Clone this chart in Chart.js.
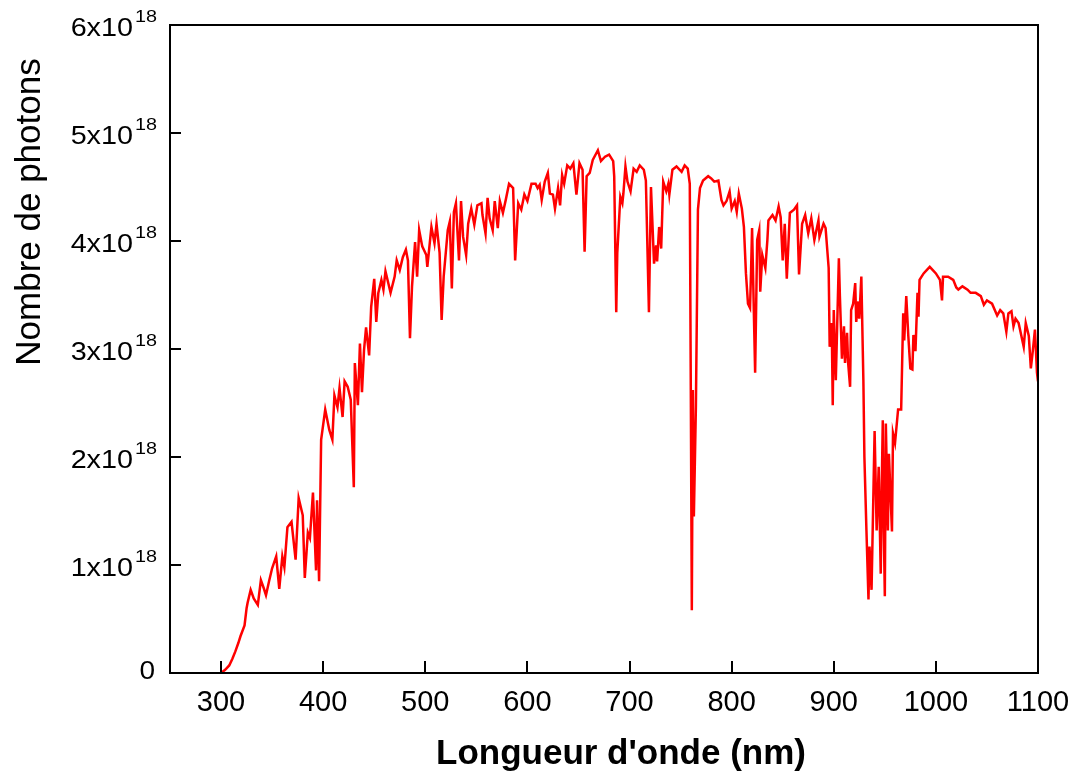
<!DOCTYPE html>
<html>
<head>
<meta charset="utf-8">
<script src="https://cdn.jsdelivr.net/npm/chart.js@4"></script>
<style>
  body { margin: 0; background: #fff; }
</style>
</head>
<body>
<canvas id="c" width="1075" height="772"></canvas>
<script>
// =====================
// Data (photons in units of 1e18)
// =====================
const wavelength = [
  300, 304, 308, 311, 314, 317, 319, 323, 325, 326, 329, 332, 336, 339, 342, 344, 347, 350, 354, 357,
  360, 362, 365, 369, 373, 376, 380, 382, 385, 387, 390, 393, 394, 396, 398, 402, 406, 409, 411, 414,
  416, 419, 421, 424, 427, 430, 431, 434, 436, 438, 440, 442, 445, 447, 450, 452, 454, 457, 459, 461,
  466, 470, 472, 475, 478, 481, 483, 485, 487, 490, 492, 494, 497, 501, 502, 506, 509, 511, 514, 516,
  518, 522, 524, 526, 528, 530, 533, 535, 537, 540, 542, 545, 548, 551, 555, 556, 559, 561, 563, 566,
  568, 571, 573, 576, 579, 582, 586, 588, 591, 594, 597, 600, 604, 608, 610, 612, 614, 617, 620, 622,
  625, 627, 630, 632, 634, 636, 639, 642, 645, 648, 651, 654, 656, 658, 661, 664, 669, 672, 676, 680,
  684, 685, 687, 688, 691, 693, 694, 696, 698, 701, 704, 707, 710, 714, 716, 719, 721, 724, 726, 727,
  729, 731, 733, 736, 738, 739, 742, 746, 751, 754, 757, 759, 760, 761, 762, 763, 765, 767, 769, 772,
  777, 780, 783, 787, 790, 792, 795, 798, 800, 803, 805, 807, 810, 812, 814, 816, 818, 819, 820, 823,
  825, 827, 828, 830, 833, 835, 836, 840, 843, 846, 848, 850, 852, 854, 857, 861, 864, 866, 869, 872,
  875, 878, 881, 885, 886, 890, 892, 895, 896, 898, 899, 900, 902, 905, 906, 908, 910, 911, 913, 914,
  916, 917, 919, 921, 922, 924, 925, 927, 929, 930, 932, 934, 935, 937, 939, 940, 942, 944, 946, 947,
  948, 949, 950, 951, 953, 954, 957, 958, 960, 963, 966, 968, 969, 971, 973, 975, 977, 978, 980, 982,
  983, 984, 986, 988, 991, 994, 997, 1000, 1004, 1006, 1007, 1012, 1017, 1020, 1022, 1026, 1031, 1034, 1039, 1044,
  1047, 1050, 1055, 1060, 1063, 1066, 1069, 1071, 1074, 1076, 1078, 1081, 1086, 1088, 1091, 1093, 1095, 1097, 1099, 1100
];
const photons = [
  0, 0.03, 0.07, 0.13, 0.2, 0.28, 0.34, 0.44, 0.6, 0.65, 0.77, 0.69, 0.63, 0.86, 0.78, 0.72, 0.85, 0.97, 1.08, 0.78,
  1.08, 0.98, 1.35, 1.4, 1.05, 1.62, 1.46, 0.88, 1.3, 1.25, 1.67, 0.95, 1.6, 0.85, 2.16, 2.44, 2.25, 2.16, 2.57, 2.46,
  2.64, 2.37, 2.7, 2.65, 2.53, 1.72, 2.87, 2.48, 3.05, 2.6, 2.99, 3.2, 2.94, 3.39, 3.65, 3.25, 3.52, 3.64, 3.55, 3.72,
  3.52, 3.67, 3.82, 3.73, 3.85, 3.92, 3.82, 3.1, 3.58, 3.99, 3.67, 4.1, 3.95, 3.87, 3.76, 4.13, 3.98, 4.16, 3.89, 3.27,
  3.67, 4.1, 4.18, 3.56, 4.27, 4.35, 3.82, 4.37, 4.04, 3.87, 4.16, 4.3, 4.15, 4.33, 4.35, 4.24, 4.07, 4.4, 4.21, 4.1,
  4.37, 4.12, 4.37, 4.26, 4.39, 4.53, 4.49, 3.82, 4.35, 4.29, 4.43, 4.37, 4.53, 4.53, 4.49, 4.52, 4.38, 4.55, 4.63, 4.44,
  4.43, 4.3, 4.49, 4.33, 4.61, 4.53, 4.7, 4.67, 4.72, 4.43, 4.72, 4.66, 3.9, 4.6, 4.63, 4.75, 4.84, 4.74, 4.78, 4.8,
  4.74, 4.6, 3.34, 3.89, 4.41, 4.35, 4.44, 4.69, 4.55, 4.46, 4.67, 4.64, 4.7, 4.66, 4.56, 3.34, 4.5, 3.79, 3.96, 3.81,
  4.13, 3.93, 4.55, 4.46, 4.53, 4.43, 4.66, 4.69, 4.64, 4.7, 4.67, 4.53, 2.62, 0.58, 2.62, 1.45, 2.47, 4.29, 4.49, 4.56,
  4.6, 4.58, 4.55, 4.56, 4.38, 4.33, 4.37, 4.46, 4.3, 4.37, 4.27, 4.44, 4.3, 4.13, 3.7, 3.42, 3.38, 3.72, 4.12, 2.78,
  4.01, 4.1, 3.53, 3.87, 3.75, 4.01, 4.19, 4.24, 4.19, 4.32, 4.22, 3.82, 4.16, 3.65, 4.26, 4.29, 4.33, 3.69, 4.16, 4.24,
  4.07, 4.21, 4.01, 4.19, 4.04, 4.16, 4.12, 3.75, 3.02, 3.24, 2.48, 3.36, 2.71, 3.84, 3.49, 2.91, 3.21, 2.87, 3.15, 2.88,
  2.65, 3.36, 3.42, 3.61, 3.25, 3.44, 3.28, 3.67, 2.71, 2.0, 1.32, 0.68, 1.17, 0.77, 1.76, 2.24, 1.32, 1.91, 0.92, 1.74,
  2.34, 1.32, 0.71, 2.31, 1.32, 2.03, 1.31, 2.22, 2.13, 2.44, 2.44, 3.33, 3.08, 3.49, 3.12, 2.82, 2.81, 3.13, 2.98, 3.52,
  3.3, 3.64, 3.67, 3.7, 3.73, 3.76, 3.73, 3.7, 3.64, 3.45, 3.67, 3.67, 3.64, 3.57, 3.55, 3.58, 3.55, 3.52, 3.52, 3.49,
  3.41, 3.45, 3.42, 3.31, 3.36, 3.33, 3.16, 3.33, 3.35, 3.21, 3.28, 3.24, 3.02, 3.24, 3.12, 2.82, 2.99, 3.18, 2.78, 2.7
];

const xTicks = [300, 400, 500, 600, 700, 800, 900, 1000, 1100];
const yTicks = [0, 1, 2, 3, 4, 5, 6];
const yTickLabels = ["0", "1x10", "2x10", "3x10", "4x10", "5x10", "6x10"];
const yExponent = "18";
const xTitle = "Longueur d'onde (nm)";
const yTitle = "Nombre de photons";

const FONT = "'Liberation Sans', Arial, sans-serif";

// draw text right-aligned at (x, y) with a horizontal stretch
function stretchedText(ctx, text, x, y, sx) {
  ctx.save();
  ctx.translate(x, y);
  ctx.scale(sx, 1);
  ctx.textAlign = "right";
  ctx.textBaseline = "alphabetic";
  ctx.fillText(text, 0, 0);
  const w = ctx.measureText(text).width * sx;
  ctx.restore();
  return w;
}

// =====================
// Frame, inward ticks, labels
// =====================
const framePlugin = {
  id: "frame",
  afterDraw(chart) {
    const ctx = chart.ctx;
    const a = chart.chartArea;
    const xs = chart.scales.x;
    const ys = chart.scales.y;
    ctx.save();
    ctx.strokeStyle = "#000";
    ctx.lineWidth = 2;
    ctx.strokeRect(a.left, a.top, a.right - a.left, a.bottom - a.top);

    // x ticks (pointing up into plot)
    ctx.beginPath();
    xTicks.forEach(v => {
      const px = Math.round(xs.getPixelForValue(v));
      ctx.moveTo(px, a.bottom);
      ctx.lineTo(px, a.bottom - 12);
    });
    // y ticks (pointing right into plot)
    yTicks.forEach(v => {
      const py = Math.round(ys.getPixelForValue(v));
      ctx.moveTo(a.left, py);
      ctx.lineTo(a.left + 11, py);
    });
    ctx.stroke();

    ctx.fillStyle = "#000";
    ctx.font = "29px " + FONT;
    ctx.textAlign = "center";
    ctx.textBaseline = "alphabetic";
    xTicks.forEach(v => {
      ctx.fillText(String(v), xs.getPixelForValue(v), 711);
    });

    yTicks.forEach((v, i) => {
      const py = ys.getPixelForValue(v);
      if (v === 0) {
        ctx.font = "25px " + FONT;
        stretchedText(ctx, yTickLabels[i], 155, py + 6, 1.12);
        return;
      }
      ctx.font = "16.5px " + FONT;
      const expW = stretchedText(ctx, yExponent, 157, py - 3, 1.2);
      ctx.font = "25px " + FONT;
      stretchedText(ctx, yTickLabels[i], 157 - expW - 2, py + 10.5, 1.15);
    });

    // axis titles
    ctx.font = "bold 35px " + FONT;
    ctx.textAlign = "center";
    ctx.textBaseline = "alphabetic";
    ctx.fillText(xTitle, 621, 764);

    ctx.translate(40, 212);
    ctx.rotate(-Math.PI / 2);
    ctx.font = "35px " + FONT;
    ctx.fillText(yTitle, 0, 0);
    ctx.restore();
  }
};

// =====================
// Chart
// =====================
new Chart(document.getElementById("c"), {
  type: "line",
  data: {
    datasets: [{
      data: wavelength.map((w, i) => ({ x: w, y: photons[i] })),
      borderColor: "#ff0000",
      borderWidth: 2.5,
      pointRadius: 0,
      tension: 0,
      fill: false
    }]
  },
  options: {
    responsive: false,
    animation: false,
    devicePixelRatio: 1,
    layout: { padding: { left: 170, right: 37, top: 25, bottom: 99 } },
    plugins: { legend: { display: false }, tooltip: { enabled: false } },
    scales: {
      x: { type: "linear", min: 250, max: 1100, display: false },
      y: { type: "linear", min: 0, max: 6, display: false }
    }
  },
  plugins: [framePlugin]
});
</script>
</body>
</html>
